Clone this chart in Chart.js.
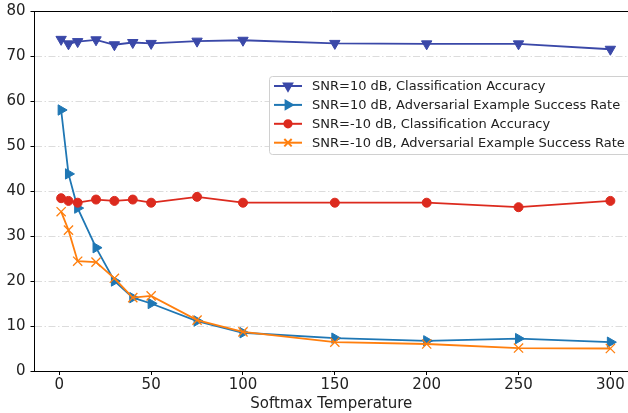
<!DOCTYPE html>
<html>
<head>
<meta charset="utf-8">
<script src="https://cdn.jsdelivr.net/npm/chart.js@4/dist/chart.umd.min.js"></script>
<style>
    html, body { margin: 0; padding: 0; background: #ffffff; }
    #wrap { width: 628px; height: 413px; position: relative; }
</style>
</head>
<body>
<div id="wrap"><canvas id="chart"></canvas></div>
<script>
"use strict";

// Softmax temperaturen op de x-as.
const temperatures = [1, 5, 10, 20, 30, 40, 50, 75, 100, 150, 200, 250, 300];

const accHigh = [73.7, 72.7, 73.2, 73.6, 72.5, 73.0, 72.8, 73.3, 73.5, 72.8, 72.7, 72.7, 71.5];
const advHigh = [58.0, 43.8, 36.2, 27.4, 20.0, 16.3, 15.0, 11.1, 8.5, 7.3, 6.7, 7.2, 6.4];
const accLow = [38.4, 37.8, 37.4, 38.1, 37.8, 38.1, 37.4, 38.7, 37.4, 37.4, 37.4, 36.4, 37.8];
const advLow = [35.4, 31.3, 24.4, 24.2, 20.6, 16.3, 16.7, 11.3, 8.7, 6.4, 6.0, 5.1, 5.0];

const xTicks = [0, 50, 100, 150, 200, 250, 300];
const yTicks = [0, 10, 20, 30, 40, 50, 60, 70, 80];

const fontFamily = "'DejaVu Sans', sans-serif";

// Reeksen met hun kleur en marker, in dezelfde volgorde als de legenda.
const series = [
    { label: "SNR=10 dB, Classification Accuracy", values: accHigh, color: "#3a48a8", style: "triangle", rotation: 180, radius: 6 },
    { label: "SNR=10 dB, Adversarial Example Success Rate", values: advHigh, color: "#1f77b4", style: "triangle", rotation: 90, radius: 6 },
    { label: "SNR=-10 dB, Classification Accuracy", values: accLow, color: "#dc2a1e", style: "circle", rotation: 0, radius: 4.5 },
    { label: "SNR=-10 dB, Adversarial Example Success Rate", values: advLow, color: "#ff7f0e", style: "crossRot", rotation: 0, radius: 6.5 }
];

// Legenda binnen het grafiekvlak, zoals in matplotlib.
const innerLegend = {
    id: "innerLegend",
    afterDatasetsDraw(chart) {
        const ctx = chart.ctx;
        const left = 269.5;
        const top = 76.5;
        const width = 372;
        const height = 78;
        const rowHeight = 18.9;

        ctx.save();
        ctx.fillStyle = "rgba(255, 255, 255, 0.85)";
        ctx.strokeStyle = "#d0d0d0";
        ctx.lineWidth = 1;
        ctx.beginPath();
        ctx.roundRect(left, top, width, height, 3);
        ctx.fill();
        ctx.stroke();

        ctx.font = "13px " + fontFamily;
        ctx.textBaseline = "middle";
        series.forEach((s, i) => {
            const y = 86 + i * rowHeight;
            ctx.strokeStyle = s.color;
            ctx.lineWidth = 2;
            ctx.beginPath();
            ctx.moveTo(274, y);
            ctx.lineTo(302, y);
            ctx.stroke();

            ctx.fillStyle = s.color;
            Chart.helpers.drawPoint(ctx, {
                pointStyle: s.style,
                rotation: s.rotation,
                radius: s.radius * 0.8,
                borderWidth: 1.3
            }, 288, y);

            ctx.fillStyle = "#222222";
            ctx.fillText(s.label, 312, y + 1);
        });
        ctx.restore();
    }
};

// Bovenste rand van het assenkader.
const topSpine = {
    id: "topSpine",
    afterDraw(chart) {
        const area = chart.chartArea;
        const ctx = chart.ctx;
        ctx.save();
        ctx.strokeStyle = "#000000";
        ctx.lineWidth = 1;
        ctx.beginPath();
        ctx.moveTo(area.left, Math.round(area.top) + 0.5);
        ctx.lineTo(chart.width, Math.round(area.top) + 0.5);
        ctx.stroke();
        ctx.restore();
    }
};

const data = {
    datasets: series.map((s, i) => ({
        label: s.label,
        data: temperatures.map((t, j) => ({ x: t, y: s.values[j] })),
        borderColor: s.color,
        backgroundColor: s.color,
        pointBackgroundColor: s.color,
        pointBorderColor: s.color,
        pointStyle: s.style,
        rotation: s.rotation,
        pointRadius: s.radius,
        pointBorderWidth: s.style === "crossRot" ? 1.3 : 1,
        borderWidth: 1.8,
        tension: 0,
        order: series.length - i
    }))
};

const config = {
    type: "line",
    data: data,
    options: {
        responsive: true,
        maintainAspectRatio: false,
        animation: false,
        layout: {
            autoPadding: false,
            padding: { top: 11, right: 0, left: 0, bottom: 0 }
        },
        scales: {
            x: {
                type: "linear",
                min: -13.5,
                max: 309.6,
                afterBuildTicks(scale) {
                    scale.ticks = xTicks.map((v) => ({ value: v }));
                },
                afterFit(scale) {
                    scale.height = 42;
                    scale.paddingLeft = 0;
                    scale.paddingRight = 0;
                },
                ticks: {
                    color: "#222222",
                    font: { family: fontFamily, size: 15 },
                    padding: 1,
                    maxRotation: 0,
                    autoSkip: false
                },
                title: {
                    display: true,
                    text: "Softmax Temperature",
                    color: "#222222",
                    font: { family: fontFamily, size: 15 },
                    padding: { top: 0, bottom: 0 }
                },
                grid: {
                    drawOnChartArea: false,
                    drawTicks: true,
                    tickLength: 4,
                    tickColor: "#000000"
                },
                border: {
                    display: true,
                    color: "#000000",
                    width: 1
                }
            },
            y: {
                type: "linear",
                min: 0,
                max: 80,
                afterBuildTicks(scale) {
                    scale.ticks = yTicks.map((v) => ({ value: v }));
                },
                afterFit(scale) {
                    scale.width = 34.5;
                    scale.paddingTop = 0;
                    scale.paddingBottom = 0;
                },
                ticks: {
                    color: "#222222",
                    font: { family: fontFamily, size: 15 },
                    padding: 5
                },
                grid: {
                    color(context) {
                        const v = context.tick ? context.tick.value : 0;
                        return v === 0 || v === 80 ? "rgba(0,0,0,0)" : "#dcdcdc";
                    },
                    lineWidth: 1,
                    drawTicks: true,
                    tickLength: 4,
                    tickColor: "#000000"
                },
                border: {
                    display: true,
                    color: "#000000",
                    width: 1,
                    dash: [7, 2.5, 1.5, 2.5]
                }
            }
        },
        plugins: {
            legend: { display: false },
            tooltip: { enabled: false }
        }
    },
    plugins: [innerLegend, topSpine]
};

new Chart(document.getElementById("chart"), config);
</script>
</body>
</html>
